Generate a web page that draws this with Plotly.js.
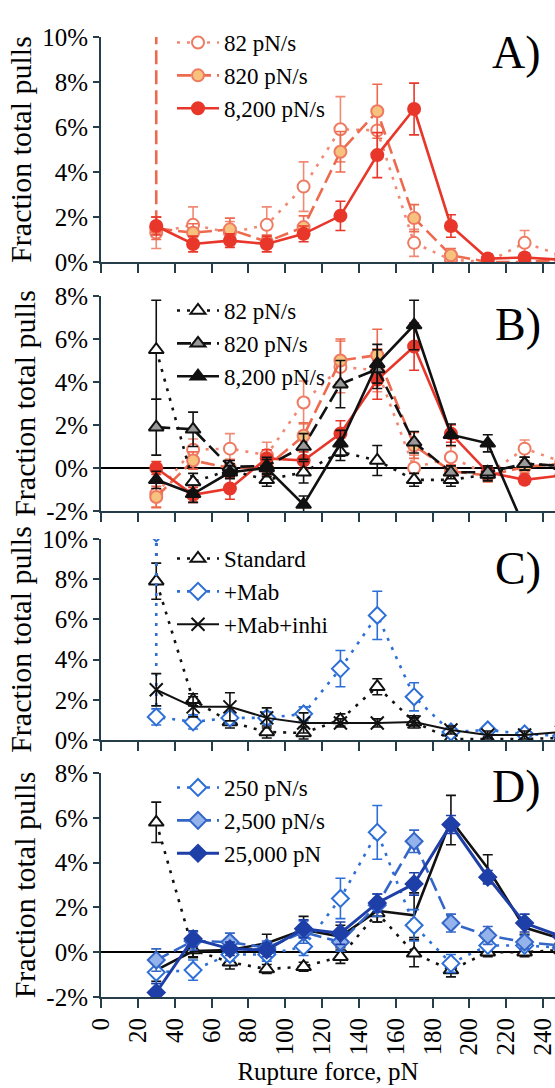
<!DOCTYPE html>
<html>
<head>
<meta charset="utf-8">
<script src="https://cdn.plot.ly/plotly-3.0.1.min.js"></script>
<style>
html,body{margin:0;padding:0;background:#fff}
#chart{width:555px;height:1088px}
</style>
</head>
<body>
<div id="chart"></div>
<script>
// ---------------- data ----------------
const forceBins = [30, 50, 70, 90, 110, 130, 150, 170, 190, 210, 230, 250];
const forceBinsLead = [30, 30, 50, 70, 90, 110, 130, 150, 170, 190, 210, 230, 250];
const xTicks = [0, 20, 40, 60, 80, 100, 120, 140, 160, 180, 200, 220, 240];
const yTicksPos = [0, 2, 4, 6, 8, 10];
const yTicksPosText = ['0%', '2%', '4%', '6%', '8%', '10%'];
const yTicksNeg = [-2, 0, 2, 4, 6, 8];
const yTicksNegText = ['-2%', '0%', '2%', '4%', '6%', '8%'];

// Panel A
const aNames = ['82 pN/s', '820 pN/s', '8,200 pN/s'];
const a82 = [1.3, 1.65, 1.3, 1.65, 3.35, 5.9, 5.85, 0.85, 0.1, 0.0, 0.85, 0.3];
const a82Err = [0.7, 0.8, 0.5, 0.8, 1.1, 1.45, 1.0, 0.6, 0.3, 0.2, 0.55, 0.3];
const a820 = [10.3, 1.5, 1.3, 1.45, 0.9, 1.55, 4.9, 6.7, 1.95, 0.3, 0.0, 0.0, 0.1];
const a820Err = [0, 0.5, 0.4, 0.5, 0.3, 0.5, 0.9, 1.2, 0.6, 0.3, 0.1, 0.1, 0];
const a8200 = [1.6, 0.8, 0.95, 0.8, 1.25, 2.05, 4.75, 6.8, 1.6, 0.15, 0.2, 0.1];
const a8200Err = [0.4, 0.35, 0.3, 0.35, 0.35, 0.65, 1.0, 1.15, 0.5, 0.2, 0.2, 0.1];

// Panel B
const bNames = ['82 pN/s', '820 pN/s', '8,200 pN/s'];
const bRed82 = [-1.2, 0.85, 0.9, 0.6, 3.05, 4.7, 4.55, 0.0, 0.5, -0.3, 0.9, 0.3];
const bRed82Err = [0.6, 0.5, 0.7, 0.6, 1.0, 1.2, 1.0, 0.6, 0.5, 0.3, 0.4, 0.3];
const bRed820 = [-1.35, 0.35, 0.0, 0.05, 1.5, 5.0, 5.25, 1.05, -0.15, -0.35, 0.05, 0.2];
const bRed820Err = [0.5, 0.4, 0.4, 0.4, 0.6, 1.0, 1.2, 0.6, 0.3, 0.3, 0.3, 0.2];
const bRed8200 = [0.0, -1.25, -0.95, 0.45, 0.35, 1.6, 4.1, 5.65, 1.6, -0.2, -0.55, -0.35];
const bRed8200Err = [0.3, 0.35, 0.5, 0.4, 0.4, 0.6, 0.9, 1.1, 0.4, 0.3, 0.2, 0.2];
const bBlk82 = [5.5, -0.65, -0.1, -0.55, -0.2, 0.75, 0.35, -0.55, -0.55, -0.3, 0.2, 0.1];
const bBlk82Err = [2.3, 0.4, 0.3, 0.3, 0.5, 0.4, 0.7, 0.3, 0.3, 0.3, 0.3, 0.2];
const bBlk820 = [1.9, 1.8, 0.05, 0.1, 1.0, 3.9, 4.6, 1.2, -0.2, -0.2, 0.2, 0.1];
const bBlk820Err = [1.3, 0.8, 0.3, 0.4, 0.6, 1.1, 0.9, 0.5, 0.3, 0.3, 0.3, 0.2];
const bBlk8200 = [-0.55, -1.2, -0.2, 0.0, -1.7, 1.15, 4.85, 6.65, 1.55, 1.15, -2.8];
const bBlk8200Err = [0.4, 0.4, 0.3, 0.4, 0.4, 0.6, 0.9, 1.15, 0.5, 0.4, 0];

// Panel C
const cNames = ['Standard', '+Mab', '+Mab+inhi'];
const cStd = [10.3, 7.9, 2.0, 0.9, 0.4, 0.35, 1.0, 2.65, 0.9, 0.05, 0.05, 0.05, 0.1];
const cStdErr = [0, 0.9, 0.3, 0.3, 0.3, 0.3, 0.3, 0.4, 0.3, 0.1, 0.1, 0.1, 0.1];
const cMab = [10.3, 1.15, 0.9, 1.1, 1.1, 1.3, 3.55, 6.2, 2.15, 0.4, 0.5, 0.3, 0.2];
const cMabErr = [0, 0.4, 0.35, 0.3, 0.3, 0.35, 0.9, 1.2, 0.7, 0.2, 0.2, 0.2, 0.2];
const cInhi = [2.5, 1.65, 1.65, 1.1, 0.85, 0.85, 0.85, 0.9, 0.5, 0.25, 0.25, 0.4];
const cInhiErr = [0.8, 0.5, 0.7, 0.5, 0.5, 0.2, 0.2, 0.2, 0.2, 0.2, 0.2, 0.2];

// Panel D
const dNames = ['250 pN/s', '2,500 pN/s', '25,000 pN'];
const dStd = [5.8, 0.1, -0.45, -0.75, -0.65, -0.2, 1.75, -0.05, -0.8, 0.0, 0.0, 0.1];
const dStdErr = [0.9, 0.3, 0.3, 0.2, 0.2, 0.3, 0.4, 0.6, 0.3, 0.2, 0.2, 0.1];
const dBlk = [-0.8, 0.05, 0.1, 0.4, 1.0, 0.7, 1.85, 1.65, 5.9, 3.75, 1.1, 0.6];
const dBlkErr = [0.5, 0.3, 0.3, 0.4, 0.6, 0.5, 0.5, 1.0, 1.1, 0.6, 0.3, 0.2];
const d250 = [-0.9, -0.8, -0.1, -0.1, 0.25, 2.4, 5.35, 1.2, -0.5, 0.3, 0.3, 0.2];
const d250Err = [0.5, 0.45, 0.3, 0.3, 0.4, 0.9, 1.2, 0.7, 0.4, 0.2, 0.2, 0.1];
const d2500 = [-0.35, 0.5, 0.45, 0.2, 0.9, 0.45, 2.1, 4.95, 1.3, 0.75, 0.45, 0.3];
const d2500Err = [0.5, 0.4, 0.4, 0.3, 0.5, 0.4, 0.5, 0.5, 0.4, 0.4, 0.3, 0.2];
const d25000 = [-1.8, 0.6, 0.15, 0.1, 1.05, 0.85, 2.2, 3.05, 5.7, 3.35, 1.3, 0.7];
const d25000Err = [0.4, 0.35, 0.3, 0.3, 0.4, 0.5, 0.4, 0.5, 0.4, 0.3, 0.4, 0.2];

const panelLabels = ['A)', 'B)', 'C)', 'D)'];
const yTitle = 'Fraction total pulls';
const xTitle = 'Rupture force, pN';

// ---------------- styles ----------------
const FONT = 'Liberation Serif, DejaVu Serif, serif';
const AX = '#263e4a';
const DOT = '3px,7px';
const LDASH = '14px,6px';
const RED = '#e8372a', RED_L = '#ef7a62', ORANGE = '#f6c27e';
const BLK = '#111111', GRAY = '#9a9a9a';
const BLUE = '#2d6fd6', BLUE_F = '#93b3ea', BLUE_D = '#1f3fa8';

function tr(x, y, err, opt) {
  return Object.assign({
    type: 'scatter', mode: 'lines+markers', x: x, y: y,
    error_y: {type: 'data', array: err, color: opt.ecolor || opt.color, thickness: 1.6, width: 5},
    line: {color: opt.color, width: opt.lw || 2.6, dash: opt.dash || 'solid'},
    marker: {symbol: opt.symbol, size: opt.size || 12, color: opt.fill,
             line: {color: opt.mline || opt.color, width: 2}},
    name: opt.name, showlegend: !!opt.legend, legend: opt.legend,
    xaxis: opt.xa, yaxis: opt.ya, hoverinfo: 'skip'
  }, opt.extra || {});
}

const traces = [
  // A
  tr(forceBins, a82, a82Err, {color: '#f08a75', mline: RED_L, fill: '#ffffff', symbol: 'circle', dash: DOT, name: aNames[0], legend: 'legend', xa: 'x', ya: 'y'}),
  tr(forceBinsLead, a820, a820Err, {color: '#ee6a4e', mline: RED_L, fill: ORANGE, symbol: 'circle', dash: LDASH, name: aNames[1], legend: 'legend', xa: 'x', ya: 'y'}),
  tr(forceBins, a8200, a8200Err, {color: RED, fill: RED, symbol: 'circle', name: aNames[2], legend: 'legend', xa: 'x', ya: 'y'}),
  // B red overlays
  tr(forceBins, bRed82, bRed82Err, {color: '#f08a75', mline: RED_L, fill: '#ffffff', symbol: 'circle', dash: DOT, xa: 'x2', ya: 'y2'}),
  tr(forceBins, bRed820, bRed820Err, {color: '#ee6a4e', mline: RED_L, fill: ORANGE, symbol: 'circle', dash: LDASH, xa: 'x2', ya: 'y2'}),
  tr(forceBins, bRed8200, bRed8200Err, {color: RED, fill: RED, symbol: 'circle', xa: 'x2', ya: 'y2'}),
  // B black
  tr(forceBins, bBlk82, bBlk82Err, {color: BLK, fill: '#ffffff', symbol: 'triangle-up', size: 13, dash: DOT, name: bNames[0], legend: 'legend2', xa: 'x2', ya: 'y2'}),
  tr(forceBins, bBlk820, bBlk820Err, {color: BLK, fill: GRAY, symbol: 'triangle-up', size: 13, dash: LDASH, name: bNames[1], legend: 'legend2', xa: 'x2', ya: 'y2'}),
  tr(forceBins.slice(0, bBlk8200.length), bBlk8200, bBlk8200Err, {color: BLK, fill: BLK, symbol: 'triangle-up', size: 13, name: bNames[2], legend: 'legend2', xa: 'x2', ya: 'y2'}),
  // C
  tr(forceBinsLead, cStd, cStdErr, {color: BLK, fill: '#ffffff', symbol: 'triangle-up', size: 13, dash: DOT, name: cNames[0], legend: 'legend3', xa: 'x3', ya: 'y3'}),
  tr(forceBinsLead, cMab, cMabErr, {color: BLUE, fill: '#ffffff', symbol: 'diamond', size: 13, dash: DOT, name: cNames[1], legend: 'legend3', xa: 'x3', ya: 'y3'}),
  tr(forceBins, cInhi, cInhiErr, {color: BLK, fill: BLK, symbol: 'x-thin', size: 13, lw: 2, name: cNames[2], legend: 'legend3', xa: 'x3', ya: 'y3'}),
  // D black overlays
  tr(forceBins, dStd, dStdErr, {color: BLK, fill: '#ffffff', symbol: 'triangle-up', size: 13, dash: DOT, xa: 'x4', ya: 'y4'}),
  tr(forceBins, dBlk, dBlkErr, {color: BLK, fill: BLK, symbol: 'circle', size: 1, xa: 'x4', ya: 'y4', extra: {mode: 'lines'}}),
  // D blue
  tr(forceBins, d250, d250Err, {color: BLUE, fill: '#ffffff', symbol: 'diamond', size: 13, dash: DOT, name: dNames[0], legend: 'legend4', xa: 'x4', ya: 'y4'}),
  tr(forceBins, d2500, d2500Err, {color: '#3466c8', fill: BLUE_F, symbol: 'diamond', size: 13, dash: LDASH, name: dNames[1], legend: 'legend4', xa: 'x4', ya: 'y4'}),
  tr(forceBins, d25000, d25000Err, {color: BLUE_D, fill: BLUE_D, symbol: 'diamond', size: 13, lw: 3, name: dNames[2], legend: 'legend4', xa: 'x4', ya: 'y4'})
];

// ---------------- layout ----------------
const H = 997; // plot-area height in px (t=0)
function dom(bottomPx, topPx) { return [(H - bottomPx) / H, (H - topPx) / H]; }

function xax(anchor, showLabels) {
  const a = {
    anchor: anchor, domain: [0, 1], range: [0, 246.5], tickmode: 'array', tickvals: xTicks,
    ticktext: xTicks.map(String),
    showline: true, linecolor: AX, linewidth: 2, ticks: 'outside', ticklen: 9, tickwidth: 2, tickcolor: AX,
    showgrid: false, zeroline: false, showticklabels: showLabels, ticklabeloverflow: 'allow',
    tickfont: {family: FONT, size: 25, color: '#000'}, tickangle: -90
  };
  if (showLabels) a.title = {text: xTitle, font: {family: FONT, size: 25, color: '#000'}, standoff: 8};
  return a;
}
function yax(anchor, domain, range, tickvals, ticktext, zl) {
  return {
    anchor: anchor, domain: domain, range: range, tickmode: 'array', tickvals: tickvals, ticktext: ticktext,
    showline: true, linecolor: AX, linewidth: 2, ticks: 'outside', ticklen: 6, tickwidth: 2, tickcolor: AX,
    showgrid: false, zeroline: !!zl, zerolinecolor: '#000', zerolinewidth: 2.2,
    tickfont: {family: FONT, size: 25, color: '#000'},
    title: {text: yTitle, font: {family: FONT, size: 30, color: '#000'}, standoff: 2}
  };
}
function leg(yTopPx) {
  return {x: (172 - 101) / 454, xanchor: 'left', y: (H - yTopPx) / H, yanchor: 'top',
          bgcolor: 'rgba(0,0,0,0)', borderwidth: 0, font: {family: FONT, size: 23, color: '#000'},
          itemwidth: 42, tracegroupgap: 0};
}
const labelY = [52, 325, 568, 786];

const layout = {
  width: 555, height: 1088, margin: {l: 101, r: 0, t: 0, b: 91},
  paper_bgcolor: '#fff', plot_bgcolor: 'rgba(0,0,0,0)',
  font: {family: FONT, color: '#000'},
  xaxis: xax('y', false), xaxis2: xax('y2', false), xaxis3: xax('y3', false), xaxis4: xax('y4', true),
  yaxis: yax('x', dom(262, 37), [0, 10], yTicksPos, yTicksPosText),
  yaxis2: yax('x2', dom(511, 296), [-2, 8], yTicksNeg, yTicksNegText, true),
  yaxis3: yax('x3', dom(740, 539), [0, 10], yTicksPos, yTicksPosText),
  yaxis4: yax('x4', dom(997, 773), [-2, 8], yTicksNeg, yTicksNegText, true),
  legend: leg(21), legend2: leg(289), legend3: leg(537), legend4: leg(766),
  annotations: panelLabels.map((t, i) => ({
    text: t, xref: 'paper', yref: 'paper', x: (543 - 101) / 454, y: (H - labelY[i]) / H,
    xanchor: 'right', yanchor: 'middle', showarrow: false,
    font: {family: FONT, size: 46, color: '#000'}
  })),
  showlegend: true
};

Plotly.newPlot('chart', traces, layout, {staticPlot: true, displayModeBar: false});
</script>
</body>
</html>
